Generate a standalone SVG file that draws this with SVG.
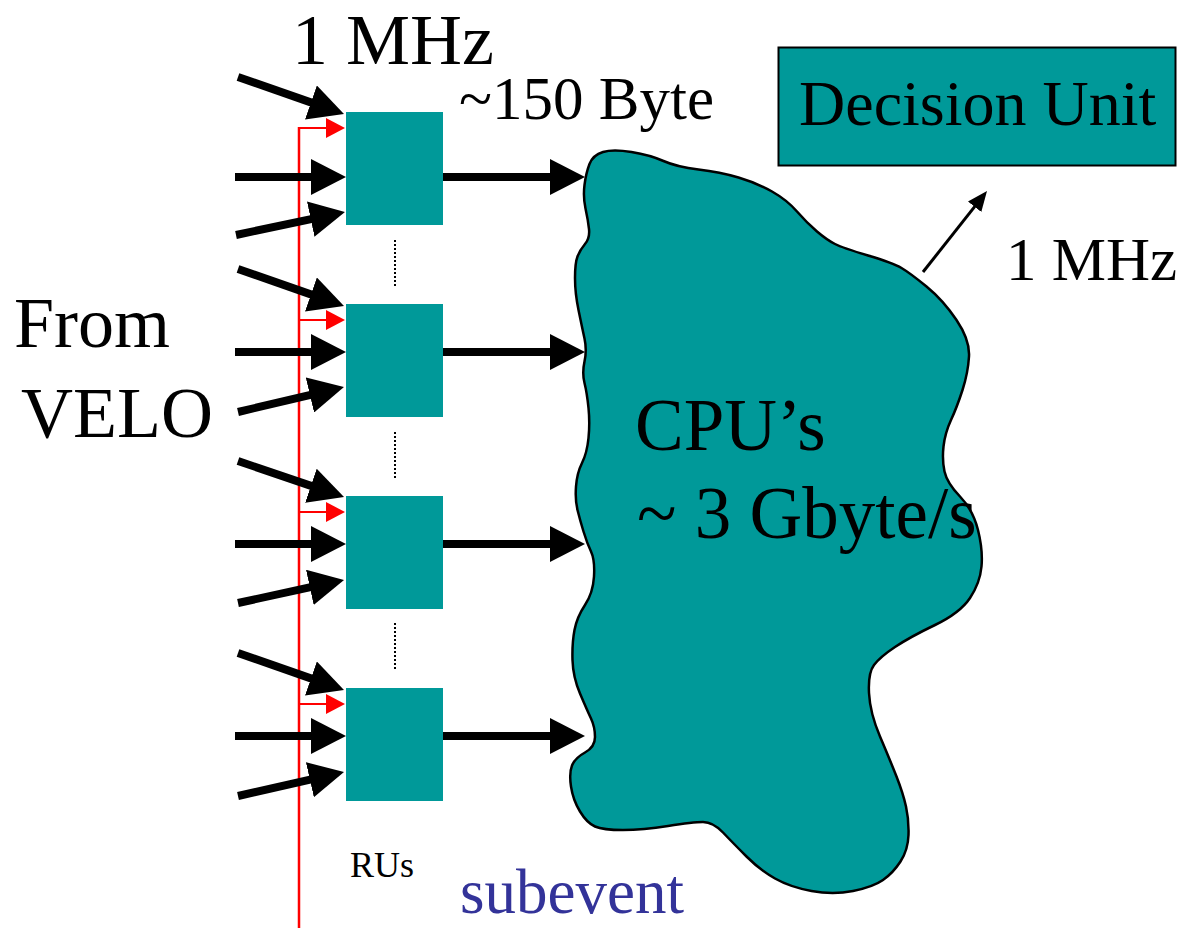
<svg xmlns="http://www.w3.org/2000/svg" width="1186" height="928" viewBox="0 0 1186 928">
<style>
.t{font-family:"Liberation Serif","Times New Roman",serif;fill:#000}
.ru{fill:#009999}
.blk{stroke:#000;stroke-width:8;fill:none;marker-end:url(#ah)}
.red{stroke:#ff0000;stroke-width:2;fill:none;marker-end:url(#rh)}
.dot{stroke:#000;stroke-width:2;stroke-dasharray:2 2}
</style>
<defs>
<marker id="ah" markerUnits="userSpaceOnUse" viewBox="0 0 35 36" refX="15" refY="18" markerWidth="35" markerHeight="36" orient="auto"><path d="M0,0 L35,18 L0,36 z" fill="#000"/></marker>
<marker id="rh" markerUnits="userSpaceOnUse" viewBox="0 0 19 20" refX="1" refY="10" markerWidth="19" markerHeight="20" orient="auto"><path d="M0,0 L19,10 L0,20 z" fill="#ff0000"/></marker>
<marker id="th" markerUnits="userSpaceOnUse" viewBox="0 0 20 17" refX="10" refY="8.5" markerWidth="20" markerHeight="17" orient="auto"><path d="M0,0 L20,8.5 L0,17 z" fill="#000"/></marker>
</defs>
<rect width="1186" height="928" fill="#fff"/>

<g id="cpus">
<path d="M584.5,185 Q586,173 589.5,164 Q593,155 603,152 Q613,149 631.5,152 Q650,155 663.5,161 Q677,167 698.5,169.5 Q720,172 738.5,177.5 Q757,183 772,191.5 Q787,200 797,211.5 Q807,223 817,231.5 Q827,240 835,244 Q843,248 868,255.5 Q893,263 901.5,268 Q910,273 926.5,286.5 Q943,300 956.5,320 Q970,340 969,356.5 Q968,373 962.5,390 Q957,407 951,420 Q945,433 943.5,446.5 Q942,460 944.5,471.5 Q947,483 960,496.5 Q973,510 978,530 Q983,550 981.5,566.5 Q980,583 970,598 Q960,613 935,625 Q910,637 895,647 Q880,657 874,665 Q868,673 869,693 Q870,713 880,736.5 Q890,760 896.5,776.5 Q903,793 906,806.5 Q909,820 908.5,835 Q908,850 900.5,861.5 Q893,873 883,880 Q873,887 853,891 Q833,895 811.5,891 Q790,887 775,878.5 Q760,870 746.5,856.5 Q733,843 723,832.5 Q713,822 703,822 Q693,822 668,826 Q643,830 623,830 Q603,830 595,826.5 Q587,823 580,811.5 Q573,800 571,786.5 Q569,773 572,765.5 Q575,758 585,752.5 Q595,747 595,737 Q595,727 591,718.5 Q587,710 580,693.5 Q573,677 572.5,660 Q572,643 574.5,630 Q577,617 585,605 Q593,593 594,576.5 Q595,560 591,551.5 Q587,543 583.5,531.5 Q580,520 577.5,510 Q575,500 576,486.5 Q577,473 582,463 Q587,453 588.5,438 Q590,423 588.5,408 Q587,393 584.5,383 Q582,373 584.5,361.5 Q587,350 584.5,338.5 Q582,327 578.5,310 Q575,293 575,278 Q575,263 577.5,256.5 Q580,250 585,244 Q590,238 589,229 Q588,220 585.5,208.5 Q583,197 584.5,185 Z" fill="#009999" stroke="#000" stroke-width="2.5" stroke-linejoin="round"/>
<text class="t" x="635" y="450" font-size="73">CPU’s</text>
<text class="t" x="637" y="538" font-size="73">~ 3 Gbyte/s</text>
</g>

<g id="decision-unit">
<rect x="778.5" y="47.5" width="397" height="118" fill="#009999" stroke="#000" stroke-width="2"/>
<text class="t" x="799" y="125" font-size="64">Decision Unit</text>
</g>

<g id="ru1"><rect class="ru" x="346" y="112" width="97" height="113"/></g>
<g id="ru2"><rect class="ru" x="346" y="304" width="97" height="113"/></g>
<g id="ru3"><rect class="ru" x="346" y="496" width="97" height="113"/></g>
<g id="ru4"><rect class="ru" x="346" y="688" width="97" height="113"/></g>

<g id="labels">
<text class="t" x="292" y="64" font-size="72">1 MHz</text>
<text class="t" x="459" y="119" font-size="61">~150 Byte</text>
<text class="t" x="14" y="347" font-size="72">From</text>
<text class="t" x="21" y="437" font-size="72">VELO</text>
<text class="t" x="1006" y="280" font-size="61">1 MHz</text>
<text class="t" x="350" y="877" font-size="36">RUs</text>
<text class="t" x="460" y="913" font-size="63" style="fill:#333399">subevent</text>
</g>

<g id="connectors">
<line x1="299" y1="127" x2="299" y2="928" stroke="#ff0000" stroke-width="2.5"/>
<line class="red" x1="299" y1="128" x2="327" y2="128"/>
<line class="red" x1="299" y1="320" x2="327" y2="320"/>
<line class="red" x1="299" y1="512" x2="327" y2="512"/>
<line class="red" x1="299" y1="704" x2="327" y2="704"/>

<line class="blk" x1="238" y1="77" x2="325.1" y2="107.4"/>
<line class="blk" x1="235" y1="177" x2="326" y2="177"/>
<line class="blk" x1="236" y1="235" x2="325.4" y2="216.1"/>

<line class="blk" x1="238" y1="269" x2="325.1" y2="299.4"/>
<line class="blk" x1="235" y1="352" x2="326" y2="352"/>
<line class="blk" x1="238" y1="412" x2="324.5" y2="391.6"/>

<line class="blk" x1="238" y1="461" x2="325.1" y2="490.6"/>
<line class="blk" x1="235" y1="544" x2="326" y2="544"/>
<line class="blk" x1="238" y1="603" x2="324.5" y2="584.2"/>

<line class="blk" x1="238" y1="653" x2="325.1" y2="683.4"/>
<line class="blk" x1="235" y1="736" x2="326" y2="736"/>
<line class="blk" x1="238" y1="796" x2="324.5" y2="776.4"/>

<line class="blk" x1="443" y1="177" x2="565" y2="177"/>
<line class="blk" x1="443" y1="352" x2="565" y2="352"/>
<line class="blk" x1="443" y1="544" x2="565" y2="544"/>
<line class="blk" x1="443" y1="736" x2="565" y2="736"/>

<line class="dot" x1="395" y1="240" x2="395" y2="287"/>
<line class="dot" x1="395" y1="432" x2="395" y2="479"/>
<line class="dot" x1="395" y1="623" x2="395" y2="671"/>

<line x1="923" y1="272" x2="980.8" y2="198.9" stroke="#000" stroke-width="3" marker-end="url(#th)"/>
</g>
</svg>
